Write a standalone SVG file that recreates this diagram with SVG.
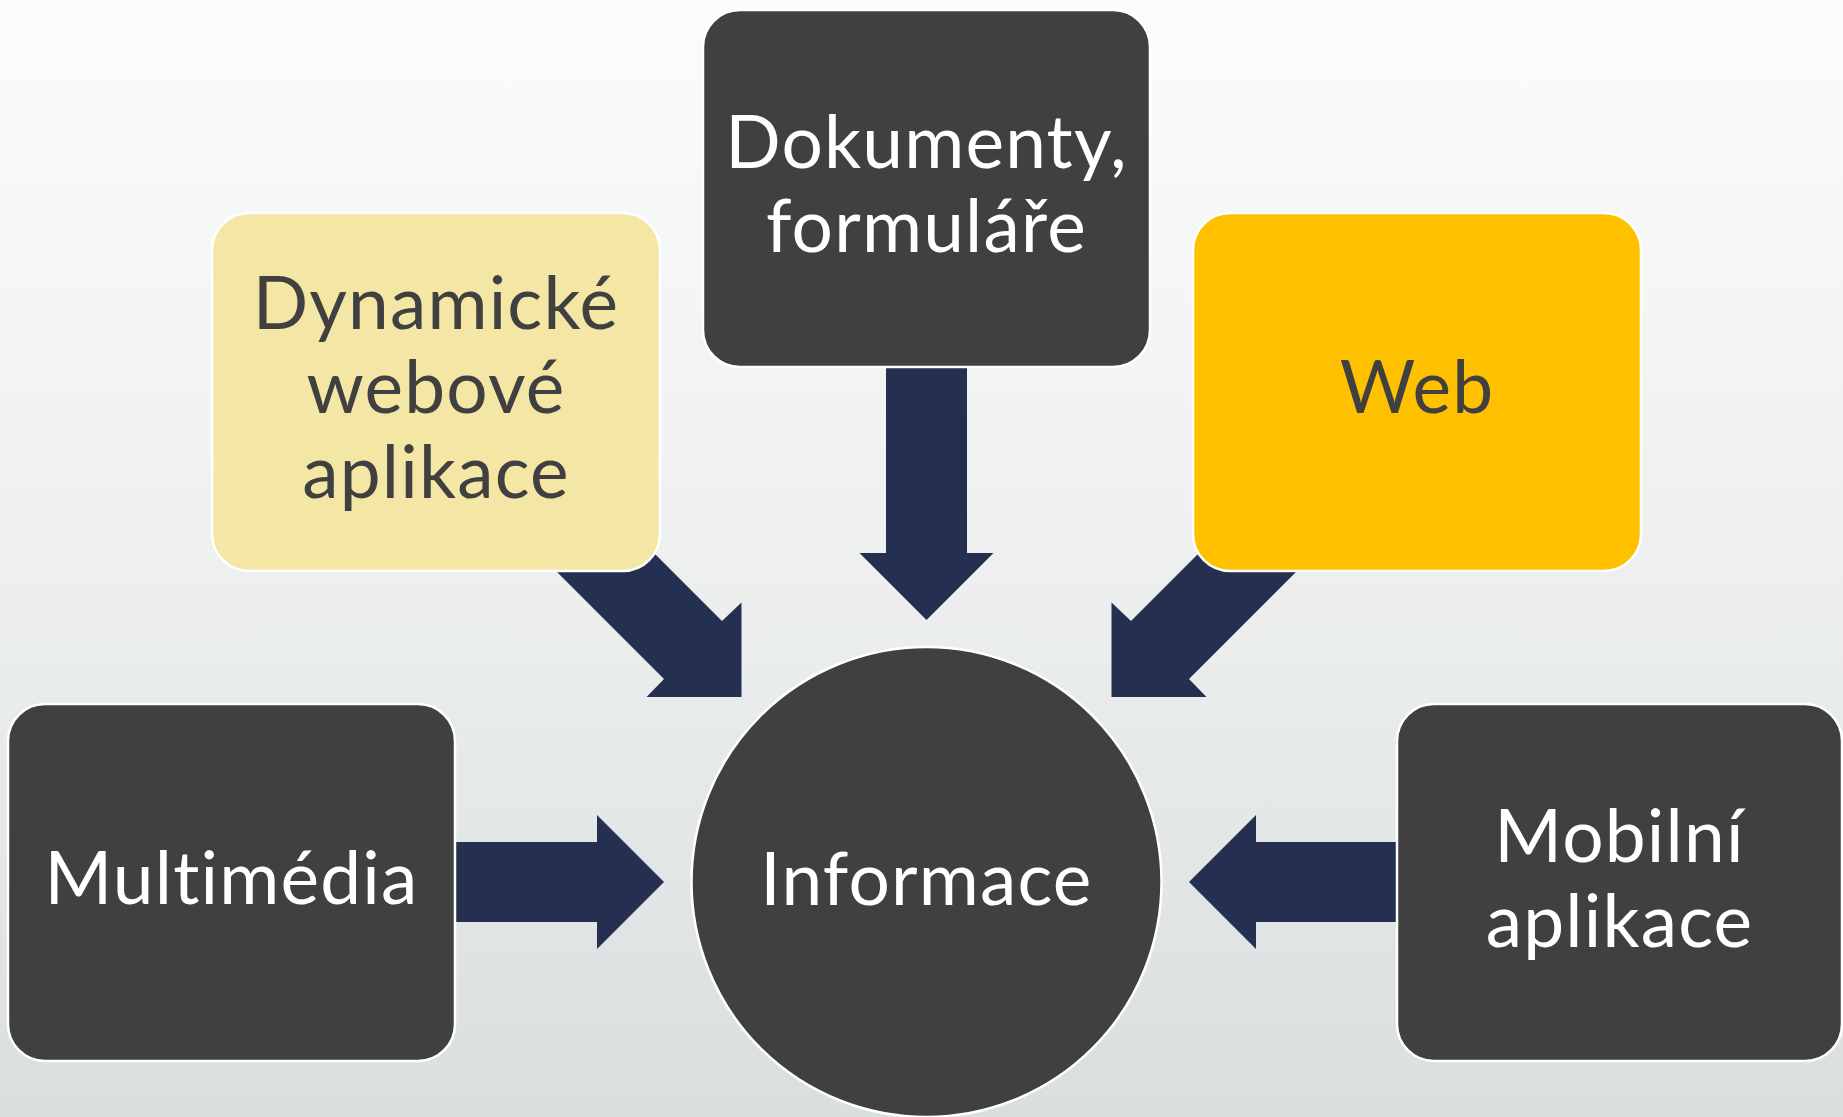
<svg xmlns="http://www.w3.org/2000/svg" width="1843" height="1117" viewBox="0 0 1843 1117">
  <defs>
    <linearGradient id="bg" x1="0" y1="0" x2="0" y2="1">
      <stop offset="0" stop-color="#FBFCFC"/>
      <stop offset="0.5" stop-color="#EEF0F0"/>
      <stop offset="1" stop-color="#D9DEDF"/>
    </linearGradient>
  </defs>
  <style>
    .arrow { fill: #252F4F; }
    .box { stroke: #FFFFFF; stroke-width: 2.5; }
    .dark { fill: #404040; }
    .pale { fill: #F4E6A4; }
    .gold { fill: #FFC000; }
    .lbl { font-family: Lato, "Open Sans", "Liberation Sans", sans-serif; font-size: 73px; letter-spacing: 1.2px; text-anchor: middle; font-variant-ligatures: none; font-feature-settings: "liga" 0, "clig" 0; }
    .lt { fill: #FFFFFF; }
    .dk { fill: #404040; }
  </style>
  <rect x="0" y="0" width="1843" height="1117" fill="url(#bg)"/>

  <g id="connectors">
    <polygon class="arrow" points="886,340 967,340 967,553 993.5,553 926.5,620 859.5,553 886,553"/>
    <polygon class="arrow" points="600.5,499.5 722,621 741.5,602.5 741.5,697 646.5,697 664,679 542.5,557.5"/>
    <polygon class="arrow" points="1252.5,499.5 1131,621 1111.5,602.5 1111.5,697 1206.5,697 1189,679 1310.5,557.5"/>
    <polygon class="arrow" points="430,842 597,842 597,815 664,882 597,949 597,922 430,922"/>
    <polygon class="arrow" points="1423,842 1256,842 1256,815 1189,882 1256,949 1256,922 1423,922"/>
  </g>

  <g id="node-dokumenty">
    <rect class="box dark" x="703" y="10" width="447" height="357" rx="37"/>
    <text class="lbl lt" x="926.5" y="168">Dokumenty,</text>
    <text class="lbl lt" x="926.5" y="252">formuláře</text>
  </g>

  <g id="node-dynamicke">
    <rect class="box pale" x="212" y="213" width="448" height="358" rx="37"/>
    <text class="lbl dk" x="436" y="329">Dynamické</text>
    <text class="lbl dk" x="436" y="413">webové</text>
    <text class="lbl dk" x="436" y="498">aplikace</text>
  </g>

  <g id="node-web">
    <rect class="box gold" x="1193" y="213" width="448" height="358" rx="37"/>
    <text class="lbl dk" x="1417" y="413">Web</text>
  </g>

  <g id="node-multimedia">
    <rect class="box dark" x="8" y="704" width="447" height="357" rx="37"/>
    <text class="lbl lt" x="231.5" y="904">Multimédia</text>
  </g>

  <g id="node-mobilni">
    <rect class="box dark" x="1397" y="704" width="445" height="357" rx="37"/>
    <text class="lbl lt" x="1619.5" y="862">Mobilní</text>
    <text class="lbl lt" x="1619.5" y="947">aplikace</text>
  </g>

  <g id="node-informace">
    <circle class="box dark" cx="926.5" cy="882" r="235"/>
    <text class="lbl lt" x="926.5" y="905">Informace</text>
  </g>
</svg>
